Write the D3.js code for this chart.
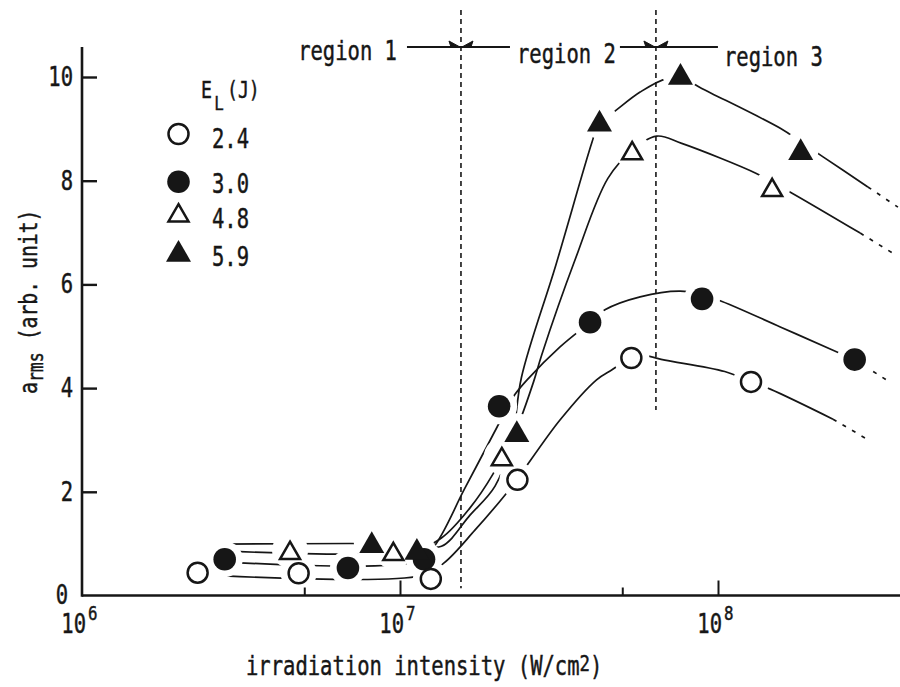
<!DOCTYPE html>
<html>
<head>
<meta charset="utf-8">
<script src="https://cdn.jsdelivr.net/npm/d3@7"></script>
<style>
  html, body { margin: 0; padding: 0; background: #fff; }
  svg { display: block; }
</style>
</head>
<body>
<svg id="chart" width="900" height="687"></svg>
<script>
// ---- axis ticks ----
const xTickValues = [5e6, 1e7, 5e7, 1e8];
const xMajorTicks = [1e7, 1e8];
const xLabelExponents = [6, 7, 8];
const yTickValues = [0, 2, 4, 6, 8, 10];

// ---- measured points: irradiation intensity (W/cm2) vs a_rms ----
const energyLabels = ["2.4", "3.0", "4.8", "5.9"];

const x24 = [2.31e6, 4.80e6, 1.25e7, 2.34e7, 5.34e7, 1.27e8];
const y24 = [0.44, 0.43, 0.32, 2.23, 4.58, 4.12];

const x30 = [2.81e6, 6.86e6, 1.19e7, 2.05e7, 3.96e7, 8.91e7, 2.69e8];
const y30 = [0.70, 0.53, 0.70, 3.65, 5.27, 5.72, 4.55];

const x48 = [4.51e6, 9.53e6, 2.09e7, 5.37e7, 1.48e8];
const y48 = [0.87, 0.85, 2.68, 8.58, 7.87];

const x59 = [8.15e6, 1.13e7, 2.33e7, 4.24e7, 7.62e7, 1.82e8];
const y59 = [1.03, 0.90, 3.17, 9.16, 10.06, 8.61];

// ---- hand-drawn guide curves [intensity, a_rms]; tails are the dotted extrapolations ----
const fit24 = [[2.80e6,0.38],[1.16e7,0.38],[1.37e7,0.62],[1.72e7,1.26],[2.14e7,1.94],[2.34e7,2.25],
  [3.18e7,3.38],[4.15e7,4.16],[4.63e7,4.35],[5.34e7,4.58],[5.89e7,4.62],[6.81e7,4.54],
  [1.05e8,4.32],[1.27e8,4.12],[1.46e8,3.98],[2.30e8,3.40]];
const tail24 = [[2.30e8,3.40],[3.01e8,2.98]];

const fit30 = [[2.80e6,0.65],[1.11e7,0.65],[1.27e7,0.92],[1.60e7,2.07],[2.02e7,3.25],[2.15e7,3.56],
  [2.30e7,3.88],[2.51e7,4.16],[3.18e7,4.79],[3.96e7,5.27],[4.41e7,5.51],[5.69e7,5.76],
  [7.60e7,5.87],[8.91e7,5.80],[1.03e8,5.67],[1.57e8,5.18],[2.30e8,4.73],[2.69e8,4.55]];
const tail30 = [[2.69e8,4.55],[3.42e8,4.14]];

const fit48 = [[2.80e6,0.86],[1.08e7,0.86],[1.35e7,1.11],[1.66e7,1.69],[1.96e7,2.34],[2.09e7,2.68],
  [2.33e7,3.23],[2.63e7,4.12],[2.79e7,4.64],[3.55e7,6.47],[4.51e7,8.05],[5.37e7,8.58],
  [6.42e7,8.86],[7.69e7,8.72],[1.32e8,8.14],[1.48e8,7.97],[1.71e8,7.76],[2.80e8,6.99]];
const tail48 = [[2.80e8,6.99],[3.53e8,6.61]];

const fit59 = [[2.80e6,0.99],[1.11e7,0.99],[1.35e7,0.95],[1.66e7,1.55],[1.99e7,2.11],[2.25e7,3.00],
  [2.41e7,4.21],[3.09e7,6.37],[4.01e7,8.73],[4.24e7,9.15],[4.57e7,9.27],[5.69e7,9.71],
  [6.90e7,9.97],[7.82e7,9.96],[8.89e7,9.78],[1.57e8,9.01],[1.82e8,8.75],[2.14e8,8.46],[2.96e8,7.88]];
const tail59 = [[2.96e8,7.88],[3.68e8,7.49]];

// ---- region annotation ----
const regionNames = ["region 1", "region 2", "region 3"];
const regionBounds = [1.555e7, 6.38e7];

const series = [
  { label: energyLabels[0], shape: "circle",   filled: false, xs: x24, ys: y24, fit: fit24, tail: tail24 },
  { label: energyLabels[1], shape: "circle",   filled: true,  xs: x30, ys: y30, fit: fit30, tail: tail30 },
  { label: energyLabels[2], shape: "triangle", filled: false, xs: x48, ys: y48, fit: fit48, tail: tail48 },
  { label: energyLabels[3], shape: "triangle", filled: true,  xs: x59, ys: y59, fit: fit59, tail: tail59 }
];

const INK = "#161616";
const SX = 0.79;            // narrow typewriter-style lettering
const FS = 26;              // main lettering size
const FONT = "DejaVu Sans Mono";

const svg = d3.select("#chart").attr("font-family", FONT).attr("fill", INK);

const x = d3.scaleLog().domain([1e6, 1e8]).range([82, 718]);
const y = d3.scaleLinear().domain([0, 10]).range([595.5, 77]);
const X_END = 900, Y_TOP = 47;

function label(sel, str, px, py, size, anchor) {
  return sel.append("text")
    .attr("transform", `translate(${px},${py}) scale(${SX},1)`)
    .attr("font-size", size)
    .attr("text-anchor", anchor || "start")
    .attr("fill", INK)
    .attr("stroke", INK).attr("stroke-width", 0.45)
    .text(str);
}

function triPath(cx, cy, s) {
  const h = s * Math.sqrt(3) / 2;
  return `M${cx},${cy - h / 2}L${cx + s / 2},${cy + h / 2}L${cx - s / 2},${cy + h / 2}Z`;
}

function drawMarker(g, shape, filled, cx, cy) {
  if (shape === "circle") {
    g.append("circle").attr("cx", cx).attr("cy", cy)
      .attr("r", filled ? 11.3 : 10)
      .attr("fill", filled ? INK : "#fff")
      .attr("stroke", filled ? "none" : INK)
      .attr("stroke-width", 2.5);
  } else {
    g.append("path").attr("d", triPath(cx, cy, filled ? 25 : 20))
      .attr("fill", filled ? INK : "#fff")
      .attr("stroke", filled ? "none" : INK)
      .attr("stroke-width", 2.5)
      .attr("stroke-linejoin", "miter");
  }
}

// ---- guide curves ----
const line = d3.line()
  .x(d => x(d[0]))
  .y(d => y(d[1]))
  .curve(d3.curveCatmullRom.alpha(0.5));

const curves = svg.append("g").attr("fill", "none").attr("stroke", INK).attr("stroke-width", 1.7);
series.forEach(s => {
  curves.append("path").attr("d", line(s.fit));
  curves.append("path").attr("d", line(s.tail)).attr("stroke-dasharray", "4,7");
});

// white gaps where curves meet the symbols
const halos = svg.append("g").attr("fill", "#fff");
series.forEach(s => {
  s.xs.forEach((xv, i) => {
    halos.append("circle").attr("cx", x(xv)).attr("cy", y(s.ys[i])).attr("r", 18);
  });
});

// ---- region boundaries ----
const regions = svg.append("g");
const b1 = x(regionBounds[0]), b2 = x(regionBounds[1]);
regions.append("line").attr("x1", b1).attr("x2", b1).attr("y1", 10).attr("y2", y(0.14))
  .attr("stroke", INK).attr("stroke-width", 1.6).attr("stroke-dasharray", "5,4");
regions.append("line").attr("x1", b2).attr("x2", b2).attr("y1", 10).attr("y2", y(3.58))
  .attr("stroke", INK).attr("stroke-width", 1.6).attr("stroke-dasharray", "5,4");

const LY = 47;
regions.append("line").attr("x1", b1 - 54).attr("x2", b1 + 49).attr("y1", LY).attr("y2", LY)
  .attr("stroke", INK).attr("stroke-width", 2);
regions.append("line").attr("x1", b2 - 36).attr("x2", b2 + 62).attr("y1", LY).attr("y2", LY)
  .attr("stroke", INK).attr("stroke-width", 2);
[b1, b2].forEach(b => {
  regions.append("path").attr("d", `M${b - 12},${LY - 6}L${b - 1},${LY}L${b - 10},${LY}Z`)
    .attr("fill", INK).attr("stroke", INK).attr("stroke-width", 1);
  regions.append("path").attr("d", `M${b + 12},${LY - 6}L${b + 1},${LY}L${b + 10},${LY}Z`)
    .attr("fill", INK).attr("stroke", INK).attr("stroke-width", 1);
});
label(regions, regionNames[0], b1 - 64, 60, FS, "end");
label(regions, regionNames[1], b1 + 56, 63, FS, "start");
label(regions, regionNames[2], b2 + 68, 66, FS, "start");

// ---- axes ----
const axes = svg.append("g");
axes.append("line").attr("x1", x.range()[0]).attr("x2", X_END).attr("y1", y(0)).attr("y2", y(0))
  .attr("stroke", INK).attr("stroke-width", 2.6);
axes.append("line").attr("x1", x.range()[0]).attr("x2", x.range()[0]).attr("y1", Y_TOP).attr("y2", y(0) + 1.3)
  .attr("stroke", INK).attr("stroke-width", 2.6);

const xAxisG = axes.append("g").attr("transform", `translate(0,${y(0)})`)
  .call(d3.axisBottom(x).tickValues(xTickValues).tickFormat("").tickSizeOuter(0).tickSizeInner(-15));
xAxisG.select(".domain").remove();
xAxisG.selectAll(".tick line")
  .attr("y2", d => xMajorTicks.includes(d) ? -15 : -8)
  .attr("stroke", INK).attr("stroke-width", 2);

const yAxisG = axes.append("g").attr("transform", `translate(${x.range()[0]},0)`)
  .call(d3.axisLeft(y).tickValues(yTickValues.filter(v => v > 0)).tickFormat("").tickSizeOuter(0).tickSizeInner(-15));
yAxisG.select(".domain").remove();
yAxisG.selectAll(".tick line").attr("stroke", INK).attr("stroke-width", 2.4);

// y tick labels
yTickValues.forEach(v => {
  if (v === 0) label(axes, String(v), 68, y(v) + 8.5, FS, "end");
  else label(axes, String(v), 73, y(v) + 9, FS, "end");
});

// x tick labels as powers of ten
xLabelExponents.forEach(e => {
  const px = x(Math.pow(10, e));
  label(axes, "10", px + 4, 633, FS, "end");
  label(axes, String(e), px + 6, 620, 20, "start");
});

// axis titles
const xt = axes.append("text")
  .attr("transform", `translate(246,675) scale(${SX},1)`)
  .attr("font-size", FS).attr("fill", INK)
  .attr("stroke", INK).attr("stroke-width", 0.45);
xt.append("tspan").text("irradiation intensity (W/cm");
xt.append("tspan").attr("dy", -4).attr("font-size", 22).text("2");
xt.append("tspan").attr("dy", 4).text(")");

const yt = axes.append("text")
  .attr("transform", `translate(37,394) rotate(-90) scale(${SX},1)`)
  .attr("font-size", 25).attr("fill", INK)
  .attr("stroke", INK).attr("stroke-width", 0.45);
yt.append("tspan").text("a");
yt.append("tspan").attr("dy", 6).attr("font-size", 21).text("rms");
yt.append("tspan").attr("dy", -6).text(" (arb. unit)");

// ---- data symbols ----
const marks = svg.append("g");
[1, 3, 0, 2].forEach(k => {
  const s = series[k];
  s.xs.forEach((xv, i) => drawMarker(marks, s.shape, s.filled, x(xv), y(s.ys[i])));
});

// ---- legend ----
const legend = svg.append("g");
const lt = legend.append("text")
  .attr("transform", `translate(201,98) scale(${SX},1)`)
  .attr("font-size", 23).attr("fill", INK)
  .attr("stroke", INK).attr("stroke-width", 0.45);
lt.append("tspan").text("E");
lt.append("tspan").attr("dx", 3).attr("dy", 12).attr("font-size", 20).text("L");
lt.append("tspan").attr("dx", 4).attr("dy", -12).text("(J)");

const legendRows = [134, 181.7, 212.8, 250.8];
const legendBase = [148, 193, 228, 266];
series.forEach((s, i) => {
  drawMarker(legend, s.shape, s.filled, 178.5, legendRows[i]);
  label(legend, s.label, 212, legendBase[i], FS, "start");
});
</script>
</body>
</html>
